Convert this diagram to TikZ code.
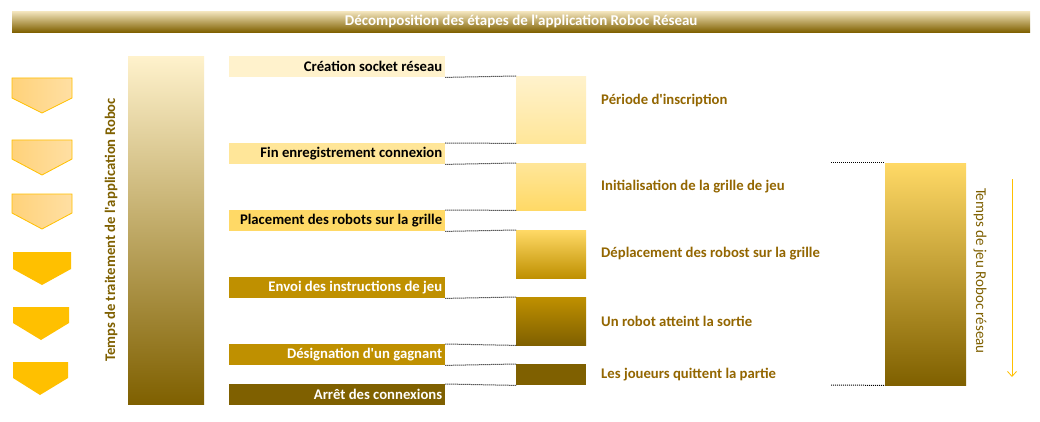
\documentclass[tikz,border=0pt]{standalone}
\usepackage{fontspec}
\setmainfont{Carlito}[Ligatures=TeXOff]
\usetikzlibrary{arrows.meta}
\definecolor{cA}{HTML}{FFF2CC}
\definecolor{cB}{HTML}{FFE699}
\definecolor{cC}{HTML}{FFD966}
\definecolor{cD}{HTML}{BF9000}
\definecolor{cE}{HTML}{7F6000}
\definecolor{cGold}{HTML}{FFC000}
\definecolor{cPentL}{HTML}{FFD27A}
\definecolor{cPentR}{HTML}{FFDFA3}
\definecolor{cTxt}{HTML}{936600}
\definecolor{cTitleTop}{HTML}{F4E6BE}
\newcommand\labtext[1]{\makebox[210pt][r]{#1}}
\begin{document}
\begin{tikzpicture}[x=1pt,y=-1pt,
  lab/.style={anchor=north west,inner xsep=3pt,inner ysep=0pt,minimum height=21pt,
    font=\fontsize{14.7}{16}\selectfont\bfseries},
  midbox/.style={anchor=north west,inner sep=0pt,minimum width=70pt},
  midtxt/.style={anchor=west,inner sep=0pt,text=cTxt,font=\fontsize{14.7}{16}\selectfont\bfseries},
  dots/.style={line width=1pt,dash pattern=on 1pt off 1pt,black},
  pentlight/.style={draw=cGold,line width=0.8pt,left color=cPentL,right color=cPentR},
  pentdark/.style={fill=cGold}]
\useasboundingbox (0,0) rectangle (1040,422);
\fill[white] (0,0) rectangle (1040,422);
% title
\node[anchor=north west,inner sep=0pt,minimum width=1018pt,minimum height=21pt,
  top color=cTitleTop,bottom color=cE,text=white,font=\fontsize{15}{16}\selectfont\bfseries]
  (title) at (12,11) {Décomposition des étapes de l'application Roboc Réseau};
% pentagons
\draw[pentlight] (12,78) -- (72,78) -- (72,98) -- (42,113) -- (12,98) -- cycle;
\draw[pentlight] (12,140) -- (72,140) -- (72,159) -- (42,175) -- (12,159) -- cycle;
\draw[pentlight] (12,194) -- (72,194) -- (72,213) -- (42,229) -- (12,213) -- cycle;
\fill[pentdark] (13,252) -- (71,252) -- (71,269) -- (42,285) -- (13,269) -- cycle;
\fill[pentdark] (13,307) -- (69,307) -- (69,323) -- (41,340) -- (13,323) -- cycle;
\fill[pentdark] (13,362) -- (68,362) -- (68,378) -- (40,395) -- (13,378) -- cycle;
% left tall bar and text
\node[anchor=north west,inner sep=0pt,minimum width=76pt,minimum height=348pt,
  top color=cA,bottom color=cE] (bar) at (128,56) {};
\node[rotate=90,inner sep=0pt,text=cE,font=\fontsize{14.7}{16}\selectfont\bfseries]
  (bartxt) at (111,230) {Temps de traitement de l'application Roboc};
% left labels
\node[lab,fill=cA,text=black] (l1) at (229,56) {\labtext{Création socket réseau}};
\node[lab,fill=cB,text=black] (l2) at (229,143) {\labtext{Fin enregistrement connexion}};
\node[lab,fill=cC,text=black] (l3) at (229,210) {\labtext{Placement des robots sur la grille}};
\node[lab,fill=cD,text=white] (l4) at (229,277) {\labtext{Envoi des instructions de jeu}};
\node[lab,fill=cD,text=white] (l5) at (229,344) {\labtext{Désignation d'un gagnant}};
\node[lab,fill=cE,text=white] (l6) at (229,384) {\labtext{Arrêt des connexions}};
% middle boxes
\node[midbox,minimum height=67pt,top color=cA,bottom color=cB] (b1) at (516,76) {};
\node[midbox,minimum height=47pt,top color=cB,bottom color=cC] (b2) at (516,163) {};
\node[midbox,minimum height=48pt,top color=cC,bottom color=cD] (b3) at (516,230) {};
\node[midbox,minimum height=48pt,top color=cD,bottom color=cE] (b4) at (516,297) {};
\node[midbox,minimum height=21pt,fill=cE] (b5) at (516,364) {};
% middle texts
\node[midtxt] (t1) at (601,100) {Période d'inscription};
\node[midtxt] (t2) at (601,187) {Initialisation de la grille de jeu};
\node[midtxt] (t3) at (601,254) {Déplacement des robost sur la grille};
\node[midtxt] (t4) at (601,321) {Un robot atteint la sortie};
\node[midtxt] (t5) at (601,375) {Les joueurs quittent la partie};
% dotted connectors
\draw[dots] (l1.south east) -- (b1.north west);
\draw[dots] (l2.north east) -- (b1.south west);
\draw[dots] (l2.south east) -- (b2.north west);
\draw[dots] (l3.north east) -- (b2.south west);
\draw[dots] (l3.south east) -- (b3.north west);
\draw[dots] (l4.south east) -- (b4.north west);
\draw[dots] (l5.north east) -- (b4.south west);
\draw[dots] (l5.south east) -- (b5.north west);
\draw[dots] (l6.north east) -- (b5.south west);
% right box
\node[anchor=north west,inner sep=0pt,minimum width=81pt,minimum height=222pt,
  top color=cC,bottom color=cE] (rb) at (885,163) {};
\coordinate (rtop) at (831,163);
\coordinate (rbot) at (831,385);
\draw[dots] (rtop) -- (rb.north west);
\draw[dots] (rbot) -- (rb.south west);
\node[rotate=-90,inner sep=0pt,text=cE,font=\fontsize{15}{16}\selectfont,
  text width=170pt,align=justify]
  (rtxt) at (980,273) {Temps de jeu Roboc réseau};
\coordinate (a1) at (1012,179);
\coordinate (a2) at (1012,377);
\draw[cGold,line width=0.8pt,-{Straight Barb[length=5pt,width=9pt]}] (a1) -- (a2);
\end{tikzpicture}
\end{document}
